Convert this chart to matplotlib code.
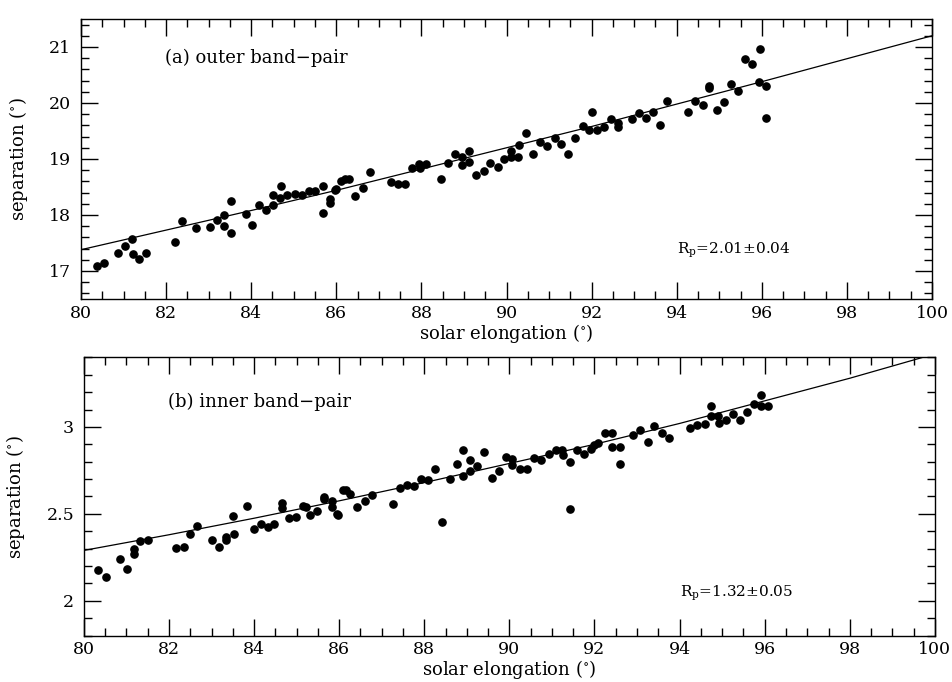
import matplotlib
matplotlib.use("Agg")
import matplotlib.pyplot as plt
from matplotlib.ticker import MultipleLocator

# ---------------- data ----------------
# (a) outer band-pair
outer_elong = [80.37, 80.54, 80.86, 81.04, 81.19, 81.22, 81.37, 81.53, 82.20, 82.37,
               82.70, 83.04, 83.20, 83.36, 83.37, 83.53, 83.53, 83.88, 84.03, 84.19,
               84.35, 84.52, 84.52, 84.69, 84.68, 84.85, 85.02, 85.19, 85.35, 85.51,
               85.68, 85.69, 85.86, 85.86, 85.96, 86.00, 86.12, 86.21, 86.29, 86.45,
               86.63, 86.78, 87.29, 87.45, 87.62, 87.78, 87.95, 87.96, 88.11, 88.47,
               88.63, 88.80, 88.96, 88.96, 89.13, 89.13, 89.29, 89.47, 89.62, 89.80,
               89.95, 90.11, 90.11, 90.28, 90.29, 90.45, 90.62, 90.78, 90.96, 91.13,
               91.29, 91.45, 91.62, 91.80, 91.95, 92.02, 92.12, 92.28, 92.45, 92.61,
               92.62, 92.94, 93.11, 93.27, 93.44, 93.61, 93.78, 94.27, 94.44, 94.61,
               94.77, 94.77, 94.94, 95.11, 95.28, 95.44, 95.60, 95.76, 95.95, 95.94,
               96.10, 96.10]
outer_sep = [17.09, 17.14, 17.33, 17.45, 17.58, 17.30, 17.21, 17.33, 17.51, 17.90,
             17.76, 17.78, 17.91, 18.00, 17.80, 18.25, 17.68, 18.02, 17.82, 18.17,
             18.08, 18.35, 18.17, 18.51, 18.31, 18.35, 18.38, 18.36, 18.43, 18.43,
             18.51, 18.03, 18.22, 18.28, 18.44, 18.46, 18.61, 18.64, 18.64, 18.33,
             18.49, 18.76, 18.59, 18.56, 18.55, 18.84, 18.91, 18.84, 18.91, 18.64,
             18.92, 19.08, 19.04, 18.89, 19.15, 18.95, 18.72, 18.79, 18.92, 18.86,
             19.00, 19.14, 19.04, 19.04, 19.25, 19.46, 19.09, 19.31, 19.23, 19.38,
             19.26, 19.08, 19.38, 19.59, 19.52, 19.83, 19.51, 19.57, 19.72, 19.64,
             19.57, 19.72, 19.82, 19.74, 19.83, 19.61, 20.03, 19.83, 20.04, 19.96,
             20.30, 20.26, 19.87, 20.02, 20.34, 20.22, 20.79, 20.69, 20.97, 20.38,
             20.30, 19.73]
outer_fit_x = [80, 82, 84, 86, 88, 90, 92, 94, 96, 98, 100]
outer_fit_y = [17.38, 17.73, 18.08, 18.44, 18.82, 19.20, 19.58, 19.98, 20.38, 20.79, 21.20]

# (b) inner band-pair
inner_elong = [80.34, 80.52, 80.85, 81.02, 81.18, 81.17, 81.33, 81.51, 82.17, 82.36,
               82.50, 82.67, 83.01, 83.17, 83.35, 83.35, 83.50, 83.52, 83.83, 84.00,
               84.16, 84.33, 84.48, 84.65, 84.65, 84.82, 84.99, 85.15, 85.21, 85.32,
               85.49, 85.65, 85.65, 85.82, 85.82, 85.94, 85.97, 86.09, 86.17, 86.25,
               86.42, 86.60, 86.76, 87.27, 87.43, 87.59, 87.76, 87.92, 88.09, 88.25,
               88.42, 88.60, 88.76, 88.92, 88.92, 89.08, 89.08, 89.25, 89.41, 89.59,
               89.76, 89.92, 90.07, 90.07, 90.25, 90.41, 90.58, 90.75, 90.92, 91.09,
               91.24, 91.26, 91.43, 91.43, 91.60, 91.76, 91.92, 91.99, 92.08, 92.25,
               92.41, 92.41, 92.59, 92.59, 92.91, 93.07, 93.25, 93.41, 93.58, 93.75,
               94.24, 94.42, 94.59, 94.75, 94.75, 94.91, 94.92, 95.08, 95.26, 95.42,
               95.59, 95.75, 95.92, 95.92, 96.08]
inner_sep = [2.179, 2.139, 2.239, 2.181, 2.299, 2.269, 2.342, 2.351, 2.302, 2.311,
             2.384, 2.433, 2.351, 2.311, 2.365, 2.350, 2.486, 2.384, 2.545, 2.413,
             2.442, 2.423, 2.441, 2.564, 2.535, 2.474, 2.484, 2.544, 2.538, 2.492,
             2.514, 2.595, 2.585, 2.576, 2.538, 2.500, 2.492, 2.635, 2.635, 2.616,
             2.537, 2.576, 2.608, 2.557, 2.647, 2.666, 2.658, 2.702, 2.697, 2.758,
             2.456, 2.699, 2.787, 2.866, 2.719, 2.807, 2.745, 2.778, 2.857, 2.708,
             2.747, 2.827, 2.818, 2.780, 2.759, 2.758, 2.819, 2.807, 2.846, 2.868,
             2.868, 2.839, 2.797, 2.526, 2.867, 2.847, 2.875, 2.896, 2.907, 2.965,
             2.964, 2.887, 2.887, 2.787, 2.956, 2.985, 2.915, 3.004, 2.965, 2.935,
             2.994, 3.012, 3.019, 3.121, 3.063, 3.062, 3.020, 3.042, 3.073, 3.042,
             3.083, 3.134, 3.182, 3.120, 3.119]
inner_fit_x = [80, 82, 84, 86, 88, 90, 92, 94, 96, 98, 100]
inner_fit_y = [2.29, 2.38, 2.475, 2.575, 2.68, 2.79, 2.90, 3.02, 3.15, 3.28, 3.42]

x_ticks = [80, 82, 84, 86, 88, 90, 92, 94, 96, 98, 100]
outer_yticks = [17, 18, 19, 20, 21]
inner_yticks = [2, 2.5, 3]
inner_yticklabels = ["2", "2.5", "3"]

# ---------------- style ----------------
plt.rcParams["font.family"] = ["DejaVu Serif"]
plt.rcParams["mathtext.fontset"] = "dejavuserif"
plt.rcParams["font.size"] = 12

fig = plt.figure(figsize=(9.53, 6.82), dpi=100)
ax1 = fig.add_axes([0.085, 0.5616, 0.893, 0.4106])
ax2 = fig.add_axes([0.088, 0.0680, 0.893, 0.4080])


def style(ax):
    ax.tick_params(which="both", direction="in", top=True, right=True,
                   width=1.0, labelsize=12.5)
    ax.tick_params(axis="x", pad=4)
    ax.tick_params(axis="y", pad=7)
    ax.tick_params(which="major", length=12)
    ax.tick_params(which="minor", length=6)
    for s in ax.spines.values():
        s.set_linewidth(1.0)
    ax.set_xlim(80, 100)
    ax.xaxis.set_major_locator(MultipleLocator(2))
    ax.xaxis.set_minor_locator(MultipleLocator(0.5))
    ax.set_xticks(x_ticks)
    ax.set_xlabel("solar elongation ($^{\\circ}$)", fontsize=13, labelpad=0)
    ax.set_ylabel("separation ($^{\\circ}$)", fontsize=13, labelpad=14)


# top panel
ax1.plot(outer_fit_x, outer_fit_y, color="black", lw=0.9)
ax1.plot(outer_elong, outer_sep, "o", color="black", ms=5.2, mec="black")
style(ax1)
ax1.set_ylim(16.5, 21.5)
ax1.set_yticks(outer_yticks)
ax1.yaxis.set_minor_locator(MultipleLocator(0.2))
ax1.text(0.099, 0.86, "(a) outer band\u2212pair", transform=ax1.transAxes,
         fontsize=13, va="center", ha="left")
ax1.text(0.70, 0.175, "R$_{\\rm p}$=2.01\u00b10.04", transform=ax1.transAxes,
         fontsize=11, va="center", ha="left")

# bottom panel
ax2.plot(inner_fit_x, inner_fit_y, color="black", lw=0.9)
ax2.plot(inner_elong, inner_sep, "o", color="black", ms=5.2, mec="black")
style(ax2)
ax2.set_ylim(1.8, 3.4)
ax2.set_yticks(inner_yticks)
ax2.set_yticklabels(inner_yticklabels)
ax2.yaxis.set_minor_locator(MultipleLocator(0.1))
ax2.text(0.099, 0.84, "(b) inner band\u2212pair", transform=ax2.transAxes,
         fontsize=13, va="center", ha="left")
ax2.text(0.70, 0.152, "R$_{\\rm p}$=1.32\u00b10.05", transform=ax2.transAxes,
         fontsize=11, va="center", ha="left")

fig.savefig("out.png", dpi=100)
